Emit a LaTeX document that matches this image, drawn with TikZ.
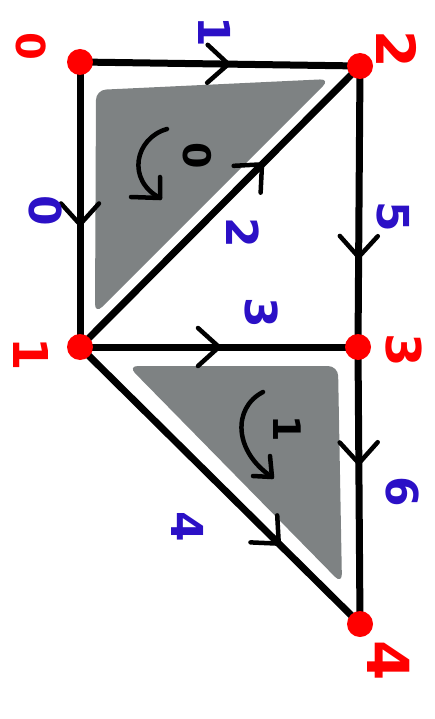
\documentclass[tikz,border=0pt]{standalone}
\usepackage{fontspec}
\setmainfont{DejaVu Sans}
\usetikzlibrary{decorations.markings}
\definecolor{nodered}{HTML}{FF0000}
\definecolor{labblue}{HTML}{2B10C6}
\definecolor{facegrey}{HTML}{7E8283}
\begin{document}
\begin{tikzpicture}[x=1pt,y=-1pt,
  vert/.style={circle,fill=nodered,inner sep=0pt,minimum size=26pt},
  edge/.style={line width=7pt,line cap=round},
  chev/.style={postaction={decorate,decoration={markings,
     mark=at position #1 with {\draw[line width=4.5pt,line cap=round,line join=round]
       (-21pt,-19pt) -- (0pt,0pt) -- (-21pt,19pt);}}}},
  circ/.style={line width=4.5pt,line cap=round,line join=round},
  blab/.style={rotate=-90,text=labblue,inner sep=0pt,font=\bfseries\fontsize{44}{44}\selectfont},
  rlab/.style={rotate=-90,text=nodered,inner sep=0pt,font=\bfseries\fontsize{48}{48}\selectfont},
  klab/.style={rotate=-90,text=black,inner sep=0pt,font=\bfseries\fontsize{38}{38}\selectfont}]
\useasboundingbox (0,0) rectangle (435,719);
% shaded faces
\fill[facegrey,rounded corners=10pt] (96,90) -- (330,79) -- (95,314) -- cycle;
\fill[facegrey,rounded corners=10pt] (128,366) -- (338,366) -- (342,584) -- cycle;
% vertices positions
\coordinate (p0) at (80,62);
\coordinate (p2) at (360,66);
\coordinate (p1) at (80,347);
\coordinate (p3) at (358,347);
\coordinate (p4) at (360,624);
% edges
\draw[edge,chev=0.53] (p0) -- (p2);
\draw[edge,chev=0.57] (p0) -- (p1);
\draw[edge,chev=0.65] (p1) -- (p2);
\draw[edge,chev=0.68] (p2) -- (p3);
\draw[edge,chev=0.5] (p1) -- (p3);
\draw[edge,chev=0.42] (p3) -- (p4);
\draw[edge,chev=0.71] (p1) -- (p4);
% vertices
\node[vert] (n0) at (p0) {};
\node[vert] (n2) at (p2) {};
\node[vert] (n1) at (p1) {};
\node[vert] (n3) at (p3) {};
\node[vert] (n4) at (p4) {};
% orientation arrows
\draw[circ] (167,129) .. controls (135,138) and (126,180) .. (160,198);
\draw[circ] (131,197) -- (160,198) -- (160,177);
\draw[circ] (263,392) .. controls (232,408) and (234,452) .. (272,477);
\draw[circ] (253,476) -- (272,477) -- (270,456);
\node[klab] (f0) at (197,156) {0};
\node[klab] (f1) at (287,429) {1};
% vertex labels
\node[rlab,font=\bfseries\fontsize{40}{40}\selectfont] (v0) at (31,46) {0};
\node[rlab,font=\bfseries\fontsize{54}{54}\selectfont] (v2) at (397,49) {2};
\node[rlab] (v1) at (31,354) {1};
\node[rlab] (v3) at (404,350) {3};
\node[rlab,font=\bfseries\fontsize{58}{58}\selectfont] (v4) at (389,661) {4};
% edge labels
\node[blab] (e1) at (215,32) {1};
\node[blab] (e0) at (46,211) {0};
\node[blab] (e5) at (393,217) {5};
\node[blab] (e2) at (243,233) {2};
\node[blab] (e3) at (262,313) {3};
\node[blab] (e6) at (402,492) {6};
\node[blab] (e4) at (188,527) {4};
\end{tikzpicture}
\end{document}
